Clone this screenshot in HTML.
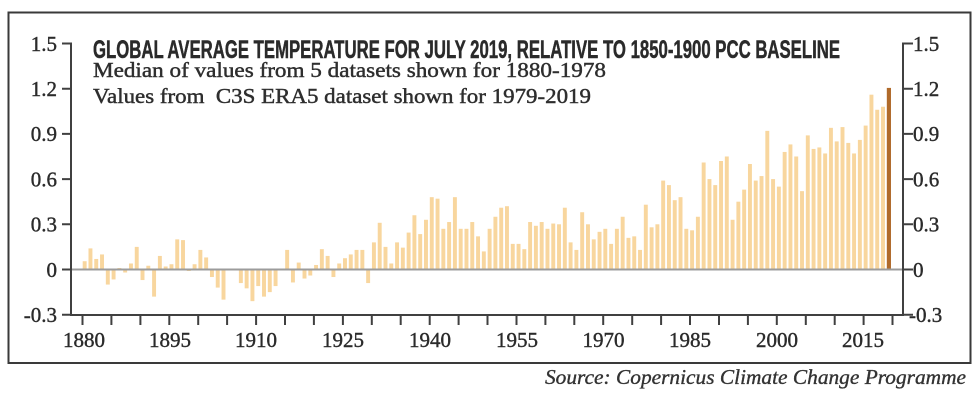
<!DOCTYPE html>
<html>
<head>
<meta charset="utf-8">
<style>
  html, body { margin: 0; padding: 0; background: #fff; }
  svg { display: block; }
</style>
</head>
<body>
<svg width="980" height="400" viewBox="0 0 980 400" xmlns="http://www.w3.org/2000/svg">
  <rect x="0" y="0" width="980" height="400" fill="#ffffff"/>
  <!-- frame -->
  <rect x="8.5" y="12.5" width="962" height="350.5" fill="none" stroke="#3a3a3a" stroke-width="2"/>

  <!-- title -->
  <text x="93" y="58" textLength="747" lengthAdjust="spacingAndGlyphs" font-family="'Liberation Sans Narrow','Liberation Sans',sans-serif" font-weight="bold" font-size="25" fill="#2a2a2a" stroke="#2a2a2a" stroke-width="0.5">GLOBAL AVERAGE TEMPERATURE FOR JULY 2019, RELATIVE TO 1850-1900 PCC BASELINE</text>
  <g font-family="'Liberation Serif',serif" font-size="21" fill="#2e2e2e" stroke="#2e2e2e" stroke-width="0.45">
    <text x="93" y="77" textLength="513" lengthAdjust="spacingAndGlyphs">Median of values from 5 datasets shown for 1880-1978</text>
    <text x="93" y="103" textLength="498" lengthAdjust="spacingAndGlyphs" xml:space="preserve">Values from  C3S ERA5 dataset shown for 1979-2019</text>
  </g>

  <!-- bars -->
  <g transform="translate(82.7,269.5) scale(5.785,-150.7)" fill="#f8d69e">
    <rect x="0" y="0" width=".68" height=".055"/>
    <rect x="1" y="0" width=".68" height=".14"/>
    <rect x="2" y="0" width=".68" height=".07"/>
    <rect x="3" y="0" width=".68" height=".10"/>
    <rect x="4" y="-.10" width=".68" height=".10"/>
    <rect x="5" y="-.066" width=".68" height=".066"/>
    <rect x="6" y="0" width=".68" height=".01"/>
    <rect x="7" y="-.02" width=".68" height=".02"/>
    <rect x="8" y="0" width=".68" height=".04"/>
    <rect x="9" y="0" width=".68" height=".15"/>
    <rect x="10" y="-.07" width=".68" height=".07"/>
    <rect x="11" y="0" width=".68" height=".025"/>
    <rect x="12" y="-.18" width=".68" height=".18"/>
    <rect x="13" y="0" width=".68" height=".09"/>
    <rect x="14" y="0" width=".68" height=".02"/>
    <rect x="15" y="0" width=".68" height=".035"/>
    <rect x="16" y="0" width=".68" height=".20"/>
    <rect x="17" y="0" width=".68" height=".195"/>
    <rect x="18" y="-.01" width=".68" height=".01"/>
    <rect x="19" y="0" width=".68" height=".035"/>
    <rect x="20" y="0" width=".68" height=".13"/>
    <rect x="21" y="0" width=".68" height=".08"/>
    <rect x="22" y="-.05" width=".68" height=".05"/>
    <rect x="23" y="-.12" width=".68" height=".12"/>
    <rect x="24" y="-.20" width=".68" height=".20"/>
    <rect x="27" y="-.09" width=".68" height=".09"/>
    <rect x="28" y="-.125" width=".68" height=".125"/>
    <rect x="29" y="-.21" width=".68" height=".21"/>
    <rect x="30" y="-.11" width=".68" height=".11"/>
    <rect x="31" y="-.18" width=".68" height=".18"/>
    <rect x="32" y="-.15" width=".68" height=".15"/>
    <rect x="33" y="-.11" width=".68" height=".11"/>
    <rect x="35" y="0" width=".68" height=".13"/>
    <rect x="36" y="-.086" width=".68" height=".086"/>
    <rect x="37" y="0" width=".68" height=".046"/>
    <rect x="38" y="-.06" width=".68" height=".06"/>
    <rect x="39" y="-.04" width=".68" height=".04"/>
    <rect x="40" y="0" width=".68" height=".03"/>
    <rect x="41" y="0" width=".68" height=".135"/>
    <rect x="42" y="0" width=".68" height=".09"/>
    <rect x="43" y="-.05" width=".68" height=".05"/>
    <rect x="44" y="0" width=".68" height=".04"/>
    <rect x="45" y="0" width=".68" height=".075"/>
    <rect x="46" y="0" width=".68" height=".10"/>
    <rect x="47" y="0" width=".68" height=".13"/>
    <rect x="48" y="0" width=".68" height=".13"/>
    <rect x="49" y="-.09" width=".68" height=".09"/>
    <rect x="50" y="0" width=".68" height=".18"/>
    <rect x="51" y="0" width=".68" height=".31"/>
    <rect x="52" y="0" width=".68" height=".15"/>
    <rect x="53" y="0" width=".68" height=".04"/>
    <rect x="54" y="0" width=".68" height=".18"/>
    <rect x="55" y="0" width=".68" height=".145"/>
    <rect x="56" y="0" width=".68" height=".245"/>
    <rect x="57" y="0" width=".68" height=".36"/>
    <rect x="58" y="0" width=".68" height=".235"/>
    <rect x="59" y="0" width=".68" height=".33"/>
    <rect x="60" y="0" width=".68" height=".48"/>
    <rect x="61" y="0" width=".68" height=".47"/>
    <rect x="62" y="0" width=".68" height=".27"/>
    <rect x="63" y="0" width=".68" height=".315"/>
    <rect x="64" y="0" width=".68" height=".48"/>
    <rect x="65" y="0" width=".68" height=".27"/>
    <rect x="66" y="0" width=".68" height=".27"/>
    <rect x="67" y="0" width=".68" height=".315"/>
    <rect x="68" y="0" width=".68" height=".22"/>
    <rect x="69" y="0" width=".68" height=".12"/>
    <rect x="70" y="0" width=".68" height=".27"/>
    <rect x="71" y="0" width=".68" height=".35"/>
    <rect x="72" y="0" width=".68" height=".41"/>
    <rect x="73" y="0" width=".68" height=".42"/>
    <rect x="74" y="0" width=".68" height=".17"/>
    <rect x="75" y="0" width=".68" height=".17"/>
    <rect x="76" y="0" width=".68" height=".135"/>
    <rect x="77" y="0" width=".68" height=".315"/>
    <rect x="78" y="0" width=".68" height=".29"/>
    <rect x="79" y="0" width=".68" height=".315"/>
    <rect x="80" y="0" width=".68" height=".27"/>
    <rect x="81" y="0" width=".68" height=".305"/>
    <rect x="82" y="0" width=".68" height=".30"/>
    <rect x="83" y="0" width=".68" height=".41"/>
    <rect x="84" y="0" width=".68" height=".18"/>
    <rect x="85" y="0" width=".68" height=".13"/>
    <rect x="86" y="0" width=".68" height=".38"/>
    <rect x="87" y="0" width=".68" height=".30"/>
    <rect x="88" y="0" width=".68" height=".20"/>
    <rect x="89" y="0" width=".68" height=".25"/>
    <rect x="90" y="0" width=".68" height=".27"/>
    <rect x="91" y="0" width=".68" height=".17"/>
    <rect x="92" y="0" width=".68" height=".27"/>
    <rect x="93" y="0" width=".68" height=".35"/>
    <rect x="94" y="0" width=".68" height=".21"/>
    <rect x="95" y="0" width=".68" height=".22"/>
    <rect x="96" y="0" width=".68" height=".13"/>
    <rect x="97" y="0" width=".68" height=".43"/>
    <rect x="98" y="0" width=".68" height=".28"/>
    <rect x="99" y="0" width=".68" height=".30"/>
    <rect x="100" y="0" width=".68" height=".59"/>
    <rect x="101" y="0" width=".68" height=".56"/>
    <rect x="102" y="0" width=".68" height=".46"/>
    <rect x="103" y="0" width=".68" height=".48"/>
    <rect x="104" y="0" width=".68" height=".27"/>
    <rect x="105" y="0" width=".68" height=".26"/>
    <rect x="106" y="0" width=".68" height=".35"/>
    <rect x="107" y="0" width=".68" height=".71"/>
    <rect x="108" y="0" width=".68" height=".60"/>
    <rect x="109" y="0" width=".68" height=".56"/>
    <rect x="110" y="0" width=".68" height=".72"/>
    <rect x="111" y="0" width=".68" height=".75"/>
    <rect x="112" y="0" width=".68" height=".33"/>
    <rect x="113" y="0" width=".68" height=".45"/>
    <rect x="114" y="0" width=".68" height=".53"/>
    <rect x="115" y="0" width=".68" height=".70"/>
    <rect x="116" y="0" width=".68" height=".59"/>
    <rect x="117" y="0" width=".68" height=".62"/>
    <rect x="118" y="0" width=".68" height=".92"/>
    <rect x="119" y="0" width=".68" height=".60"/>
    <rect x="120" y="0" width=".68" height=".55"/>
    <rect x="121" y="0" width=".68" height=".78"/>
    <rect x="122" y="0" width=".68" height=".83"/>
    <rect x="123" y="0" width=".68" height=".75"/>
    <rect x="124" y="0" width=".68" height=".52"/>
    <rect x="125" y="0" width=".68" height=".89"/>
    <rect x="126" y="0" width=".68" height=".80"/>
    <rect x="127" y="0" width=".68" height=".81"/>
    <rect x="128" y="0" width=".68" height=".77"/>
    <rect x="129" y="0" width=".68" height=".94"/>
    <rect x="130" y="0" width=".68" height=".85"/>
    <rect x="131" y="0" width=".68" height=".945"/>
    <rect x="132" y="0" width=".68" height=".84"/>
    <rect x="133" y="0" width=".68" height=".77"/>
    <rect x="134" y="0" width=".68" height=".86"/>
    <rect x="135" y="0" width=".68" height=".955"/>
    <rect x="136" y="0" width=".68" height="1.16"/>
    <rect x="137" y="0" width=".68" height="1.06"/>
    <rect x="138" y="0" width=".68" height="1.08"/>
    <rect x="139" y="0" width=".72" height="1.205" fill="#b06a2a"/>
  </g>

  <!-- zero line -->
  <line x1="71" y1="269.5" x2="903" y2="269.5" stroke="#9c9c9c" stroke-width="2"/>

  <!-- axes -->
  <g stroke="#404040" stroke-width="2" fill="none">
    <line x1="71" y1="42.5" x2="71" y2="315.5"/>
    <line x1="903" y1="42.5" x2="903" y2="315.5"/>
    <line x1="70" y1="315" x2="904" y2="315"/>
    <path d="M62 43.5H71M62 88.7H71M62 133.9H71M62 179.1H71M62 224.3H71M62 269.5H71M62 314.7H71"/>
    <path d="M903 43.5H913M903 88.7H913M903 133.9H913M903 179.1H913M903 224.3H913M903 269.5H913M903 314.7H913"/>
    <path d="M82.5 315v10M111.4 315v10M140.4 315v10M169.3 315v10M198.2 315v10M227.1 315v10M256.1 315v10M285 315v10M313.9 315v10M342.9 315v10M371.8 315v10M400.7 315v10M429.7 315v10M458.6 315v10M487.5 315v10M516.5 315v10M545.4 315v10M574.3 315v10M603.2 315v10M632.2 315v10M661.1 315v10M690 315v10M719 315v10M747.9 315v10M776.8 315v10M805.8 315v10M834.7 315v10M863.6 315v10M892.5 315v10"/>
  </g>

  <!-- left labels -->
  <g font-family="'Liberation Serif',serif" font-size="21" fill="#2b2b2b" stroke="#2b2b2b" stroke-width="0.4" text-anchor="end">
    <text x="57" y="51">1.5</text>
    <text x="57" y="96">1.2</text>
    <text x="57" y="141">0.9</text>
    <text x="57" y="186.5">0.6</text>
    <text x="57" y="231.5">0.3</text>
    <text x="57" y="277">0</text>
    <text x="57" y="322">-0.3</text>
  </g>
  <!-- right labels -->
  <g font-family="'Liberation Serif',serif" font-size="21" fill="#2b2b2b" stroke="#2b2b2b" stroke-width="0.4" text-anchor="start">
    <text x="913" y="51">1.5</text>
    <text x="913" y="96">1.2</text>
    <text x="913" y="141">0.9</text>
    <text x="913" y="186.5">0.6</text>
    <text x="913" y="231.5">0.3</text>
    <text x="913" y="277">0</text>
    <text x="909" y="322">-0.3</text>
  </g>
  <!-- x labels -->
  <g font-family="'Liberation Serif',serif" font-size="21" fill="#2b2b2b" stroke="#2b2b2b" stroke-width="0.4" text-anchor="middle">
    <text x="84" y="347">1880</text>
    <text x="170" y="347">1895</text>
    <text x="256" y="347">1910</text>
    <text x="343" y="347">1925</text>
    <text x="430" y="347">1940</text>
    <text x="517" y="347">1955</text>
    <text x="603.5" y="347">1970</text>
    <text x="690" y="347">1985</text>
    <text x="777" y="347">2000</text>
    <text x="863" y="347">2015</text>
  </g>

  <!-- source -->
  <text x="545" y="384" textLength="421" lengthAdjust="spacingAndGlyphs" font-family="'Liberation Serif',serif" font-style="italic" font-size="21" fill="#333333" stroke="#333333" stroke-width="0.35">Source: Copernicus Climate Change Programme</text>
</svg>
</body>
</html>
